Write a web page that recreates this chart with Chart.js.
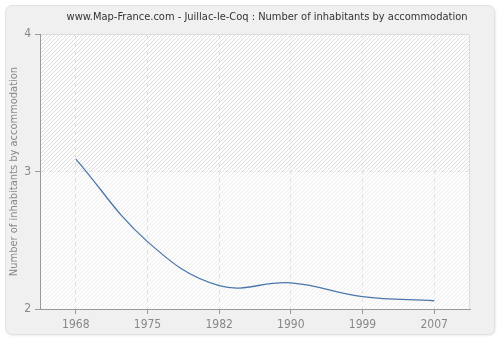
<!DOCTYPE html>
<html lang="en">
<head>
<meta charset="UTF-8">
<title>Juillac-le-Coq : Number of inhabitants by accommodation</title>
<script src="https://cdn.jsdelivr.net/npm/chart.js"></script>
<style>
html, body {
margin: 0;
padding: 0;
background: #fff;
}
.frame {
position: absolute;
left: 5px;
top: 5px;
width: 488px;
height: 328px;
background: #f0f0f0;
border: 1px solid #e2e2e2;
border-radius: 7px;
box-shadow: 1px 1px 2px rgba(0,0,0,0.08);
}
.wrap {
position: absolute;
left: 0;
top: 0;
width: 500px;
height: 340px;
}
</style>
</head>
<body>
<div class="frame"></div>
<div class="wrap"><canvas id="chart" width="500" height="340"></canvas></div>

<script>
const years = ['1968', '1975', '1982', '1990', '1999', '2007'];
const inhabitants = [3.09, 2.49, 2.17, 2.19, 2.09, 2.06];
const yTicks = [2, 3, 4];
const titleText = 'www.Map-France.com - Juillac-le-Coq : Number of inhabitants by accommodation';
const fontFamily = '"DejaVu Sans Condensed", "DejaVu Sans", sans-serif';

// hatched plot background + title drawn at its place
const plotBackground = {
id: 'plotBackground',
beforeDraw(chart) {
const {ctx, chartArea: a, scales} = chart;
ctx.save();
ctx.fillStyle = '#fdfdfd';
ctx.fillRect(a.left, a.top, a.right - a.left, a.bottom - a.top);
const mid = scales.y.getPixelForValue(3);
const bands = [[a.top, mid, '#dedede'], [mid, a.bottom, '#ededed']];
bands.forEach(([y0, y1, col]) => {
ctx.save();
ctx.beginPath();
ctx.rect(a.left, y0, a.right - a.left, y1 - y0);
ctx.clip();
ctx.strokeStyle = col;
ctx.lineWidth = 1;
ctx.beginPath();
for (let x = a.left - (a.bottom - a.top); x < a.right; x += 4) {
ctx.moveTo(x, a.bottom);
ctx.lineTo(x + (a.bottom - a.top), a.top);
}
ctx.stroke();
ctx.restore();
});
ctx.strokeStyle = '#dddddd';
ctx.beginPath();
ctx.moveTo(a.left, a.top + 0.5);
ctx.lineTo(a.right - 0.5, a.top + 0.5);
ctx.lineTo(a.right - 0.5, a.bottom);
ctx.stroke();
ctx.fillStyle = '#333';
ctx.font = '11px ' + fontFamily;
ctx.textAlign = 'center';
ctx.textBaseline = 'middle';
ctx.fillText(titleText, 267, 17);
ctx.restore();
}
};

new Chart(document.getElementById('chart'), {
type: 'line',
data: {
labels: years,
datasets: [{
data: inhabitants,
borderColor: '#4a78aa',
borderWidth: 1.3,
pointRadius: 0,
fill: false,
tension: 0.4
}]
},
options: {
responsive: false,
animation: false,
layout: {
padding: {top: 34, right: 30, left: 0, bottom: 0}
},
plugins: {
legend: {display: false},
tooltip: {enabled: false}
},
scales: {
x: {
offset: true,
grid: {
offset: false,
color: '#e2e2e2',
tickColor: '#999',
tickLength: 5,
tickBorderDash: []
},
border: {color: '#999', dash: [4, 4]},
ticks: {
color: '#888',
font: {family: fontFamily, size: 12},
padding: 4,
maxRotation: 0
},
afterFit(scale) { scale.height = 31; }
},
y: {
min: 2,
max: 4,
afterBuildTicks(scale) { scale.ticks = yTicks.map(v => ({value: v})); },
grid: {
color: (c) => c.tick && c.tick.value === 4 ? 'rgba(0,0,0,0)' : '#e2e2e2',
tickColor: '#999',
tickLength: 5,
tickBorderDash: []
},
border: {color: '#999', dash: [4, 4]},
ticks: {
color: '#888',
font: {family: fontFamily, size: 12},
padding: 4
},
title: {
display: true,
text: 'Number of inhabitants by accommodation',
color: '#888',
font: {family: fontFamily, size: 11},
padding: {top: 8, bottom: 4}
},
afterFit(scale) { scale.width = 40; }
}
}
},
plugins: [plotBackground]
});
</script>
</body>
</html>
